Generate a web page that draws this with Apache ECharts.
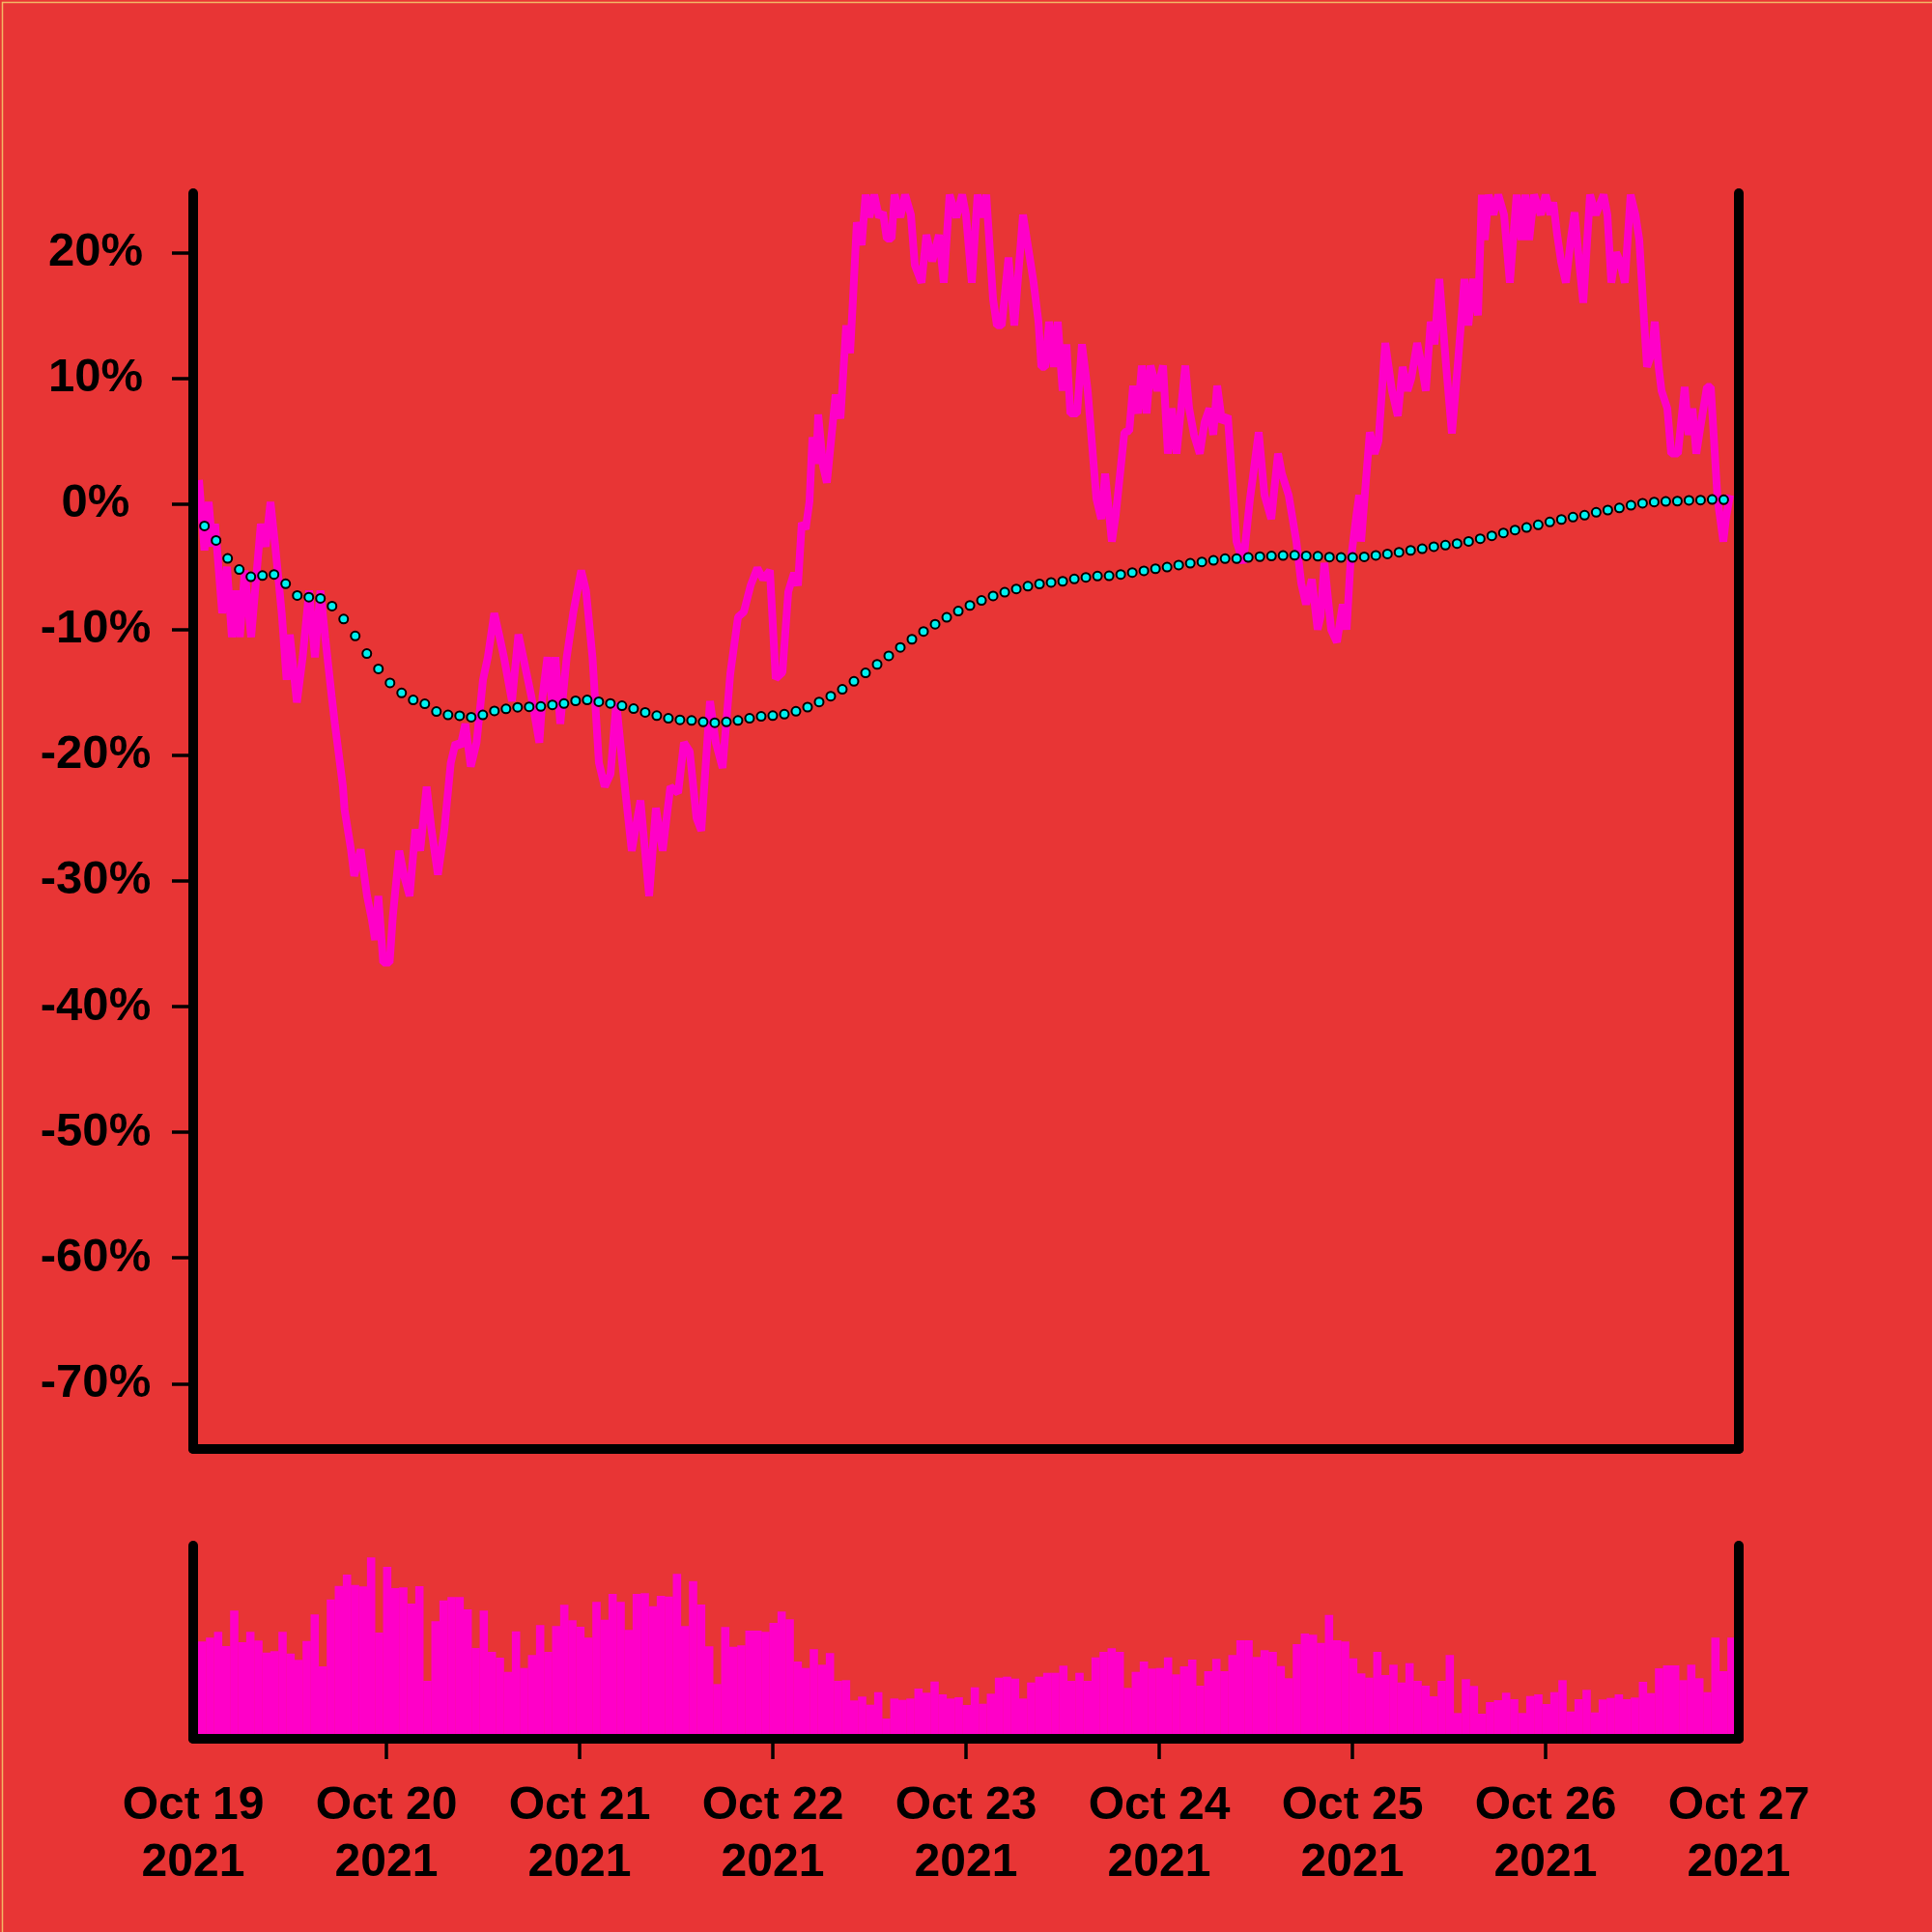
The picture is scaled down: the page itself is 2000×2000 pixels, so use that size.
<!DOCTYPE html>
<html>
<head>
<meta charset="utf-8">
<script src="https://cdn.jsdelivr.net/npm/echarts@6/dist/echarts.min.js"></script>
<style>
  html, body { margin: 0; padding: 0; background: #E83535; }
  #chart { width: 2000px; height: 2000px; }
</style>
</head>
<body>
<div id="chart"></div>
<script>
// ---------------- data (hours since Oct 19 2021 00:00) ----------------
const dayLabels = ['Oct 19', 'Oct 20', 'Oct 21', 'Oct 22', 'Oct 23', 'Oct 24', 'Oct 25', 'Oct 26', 'Oct 27'];
const yearLabel = '2021';
const yTickValues = [-70, -60, -50, -40, -30, -20, -10, 0, 10, 20];

const priceHours = [
  0.72, 1.40, 1.92, 2.40, 2.72, 3.60, 4.20, 4.80, 5.32, 5.80, 6.40, 7.20, 8.40, 9.00, 9.60, 10.20,
  11.00, 11.60, 12.00, 12.88, 13.60, 14.40, 15.12, 15.80, 16.40, 17.20, 17.60, 18.60, 18.80, 19.60,
  20.00, 20.80, 21.60, 22.20, 22.60, 23.00, 23.60, 24.40, 24.80, 25.60, 26.20, 26.88, 27.60, 28.20,
  29.00, 29.60, 30.40, 31.20, 32.00, 32.60, 33.20, 33.80, 34.48, 35.20, 36.00, 36.60, 37.40, 38.00,
  38.60, 39.60, 40.40, 41.00, 42.00, 42.60, 43.00, 43.40, 44.00, 44.60, 45.00, 45.60, 46.40, 47.20,
  48.20, 48.80, 49.60, 50.40, 51.12, 51.84, 52.56, 53.40, 54.48, 55.56, 56.64, 57.48, 58.32, 59.28,
  60.24, 60.96, 61.68, 62.52, 63.12, 64.20, 64.92, 65.76, 66.72, 67.68, 68.40, 69.24, 70.08, 70.80,
  71.64, 72.36, 73.20, 73.92, 74.64, 75.12, 75.60, 76.08, 76.56, 76.92, 77.40, 77.64, 78.24, 78.72,
  79.80, 80.40, 81.12, 81.60, 81.96, 82.44, 83.04, 83.52, 84.00, 84.60, 85.20, 85.68, 86.16, 86.76,
  87.12, 87.84, 88.44, 89.16, 89.64, 90.48, 91.08, 91.80, 92.64, 93.24, 93.96, 94.80, 95.52, 96.00,
  96.72, 97.44, 98.04, 98.52, 99.36, 99.84, 100.44, 101.28, 102.00, 103.08, 103.92, 104.40, 105.00,
  105.36, 105.84, 106.32, 106.92, 107.40, 108.00, 108.48, 108.96, 109.80, 110.40, 111.12, 112.20,
  112.80, 113.28, 114.12, 114.60, 115.68, 116.28, 116.76, 117.36, 117.84, 118.44, 118.92, 119.76,
  120.48, 121.08, 121.56, 122.16, 123.24, 123.72, 124.32, 125.04, 125.64, 126.24, 126.72, 127.20,
  127.80, 128.52, 129.60, 130.44, 131.28, 132.36, 133.08, 133.92, 134.76, 135.24, 136.08, 137.04,
  137.64, 138.24, 138.96, 139.68, 140.04, 140.52, 141.36, 142.08, 142.80, 143.28, 143.76, 144.48,
  144.84, 145.08, 146.16, 146.76, 147.24, 148.08, 148.92, 149.64, 150.24, 150.84, 151.32, 152.04,
  152.64, 153.12, 153.72, 154.20, 154.80, 155.64, 156.36, 157.08, 157.92, 158.40, 159.00, 159.60,
  160.08, 160.44, 160.92, 161.52, 162.12, 162.84, 163.56, 164.40, 165.00, 165.48, 165.96, 166.56,
  167.40, 168.00, 168.60, 168.96, 169.44, 169.92, 170.52, 171.12, 171.60, 172.20, 172.68, 173.52,
  174.24, 175.20, 175.68, 176.16, 176.76, 177.24, 177.84, 178.56, 179.16, 179.64, 180.24, 180.60,
  181.20, 181.56, 182.04, 182.40, 183.12, 183.60, 184.44, 185.28, 185.76, 186.24, 186.72, 187.20,
  188.04, 188.52, 189.36, 190.08, 190.44, 190.92
];
const priceValues = [
  1.9, -3.7, 0.15, -3.4, -1.6, -8.7, -5.0, -10.6, -6.9, -10.6, -5.3, -10.6, -1.6, -3.4, 0.15, -3.4,
  -8.7, -14.0, -10.4, -15.8, -12.2, -6.9, -12.2, -6.9, -10.6, -15.3, -17.5, -22.5, -24.3, -27.5,
  -29.6, -27.5, -31.2, -33.1, -34.7, -31.2, -36.5, -36.5, -32.8, -27.6, -29.6, -31.2, -25.9, -27.6,
  -22.5, -25.9, -29.5, -25.9, -20.6, -19.0, -19.3, -17.5, -20.9, -19.0, -14.0, -12.2, -8.7, -10.4,
  -12.2, -15.7, -10.4, -12.2, -15.3, -17.5, -19.0, -15.3, -12.2, -15.9, -12.2, -17.5, -12.2, -8.7,
  -5.3, -6.9, -12.2, -20.6, -22.5, -21.5, -15.8, -21.2, -27.6, -23.6, -31.2, -24.2, -27.6, -22.5,
  -23.0, -19.0, -19.7, -25.0, -26.0, -15.7, -19.0, -21.0, -13.5, -9.0, -8.6, -6.5, -5.1, -6.0,
  -5.3, -13.9, -13.4, -7.0, -5.5, -6.5, -1.5, -2.0, 0.2, 5.3, 3.2, 7.1, 3.0, 1.7,
  8.7, 6.8, 14.2, 12.0, 16.3, 22.4, 20.6, 24.6, 22.8, 24.6, 22.8, 23.2, 21.1, 21.1,
  24.6, 22.8, 24.6, 23.0, 19.0, 17.6, 21.4, 19.3, 21.4, 17.6, 24.6, 22.8, 24.6, 23.0,
  17.6, 24.6, 22.8, 24.6, 16.3, 14.2, 14.2, 19.6, 14.2, 23.0, 19.6, 17.6, 14.5,
  10.9, 10.9, 14.5, 10.9, 14.5, 9.0, 12.7, 7.2, 7.2, 12.7, 9.0, 0.4,
  -1.2, 2.4, -3.0, -0.9, 5.7, 5.8, 9.4, 7.2, 11.0, 7.2, 11.0, 9.0,
  11.0, 4.0, 7.6, 4.0, 11.0, 7.6, 5.5, 4.0, 6.5, 7.6, 5.5, 9.4,
  6.5, 7.0, -3.0, -4.7, 0.4, 5.7, 0.7, -1.2, 4.0, 2.4, 0.7, -3.0,
  -6.3, -8.0, -6.0, -10.0, -9.0, -4.7, -10.0, -11.0, -8.0, -10.0, -4.7, -1.0,
  0.7, -3.0, 5.7, 4.0, 5.0, 12.8, 9.0, 7.0, 10.9, 9.0, 10.0, 12.8,
  10.9, 9.0, 14.5, 12.7, 17.9, 11.0, 5.6, 11.0, 17.9, 14.2, 17.9, 15.0,
  24.6, 21.0, 24.6, 23.0, 24.6, 23.0, 17.6, 24.6, 21.0, 24.6, 21.0, 24.6,
  23.0, 24.6, 23.0, 24.0, 21.4, 19.3, 17.6, 21.0, 23.2, 19.0, 16.0, 24.6,
  23.0, 24.6, 23.0, 17.6, 20.0, 19.3, 17.6, 24.6, 23.0, 21.0, 14.5, 10.9,
  12.0, 14.5, 10.9, 9.0, 7.6, 4.0, 4.0, 9.3, 5.5, 7.6, 4.0, 6.0,
  9.3, 9.3, 0.4, -3.0, -1.0, 0.7
];

// smoothed trend, one dot every ~1.44 h
const smoothStartHour = 1.40;
const smoothStepHours = 1.4407;
const smoothValues = [
  -1.75, -2.91, -4.34, -5.22, -5.80, -5.70, -5.62, -6.36, -7.29, -7.42, -7.52, -8.13, -9.16, -10.51,
  -11.91, -13.13, -14.24, -15.04, -15.60, -15.91, -16.52, -16.79, -16.86, -16.97, -16.79, -16.47,
  -16.31, -16.18, -16.15, -16.12, -15.99, -15.89, -15.67, -15.60, -15.74, -15.88, -16.06, -16.29,
  -16.59, -16.85, -17.06, -17.18, -17.23, -17.35, -17.41, -17.35, -17.23, -17.06, -16.91, -16.85,
  -16.73, -16.50, -16.17, -15.76, -15.30, -14.75, -14.12, -13.45, -12.77, -12.09, -11.42, -10.77,
  -10.15, -9.57, -9.03, -8.53, -8.08, -7.68, -7.33, -7.03, -6.77, -6.55, -6.37, -6.25, -6.16,
  -5.97, -5.85, -5.74, -5.72, -5.62, -5.46, -5.33, -5.16, -5.03, -4.87, -4.72, -4.62, -4.49,
  -4.36, -4.36, -4.26, -4.20, -4.15, -4.11, -4.09, -4.14, -4.17, -4.23, -4.26, -4.26, -4.21,
  -4.10, -3.98, -3.85, -3.70, -3.57, -3.41, -3.28, -3.16, -2.98, -2.77, -2.54, -2.31, -2.08,
  -1.88, -1.67, -1.44, -1.24, -1.05, -0.90, -0.67, -0.49, -0.32, -0.11, 0.05, 0.15, 0.20,
  0.22, 0.28, 0.30, 0.35, 0.33
];

// hourly volume bars (arbitrary units), bar centres start at 1.1 h
const volumeStartHour = 1.1;
const volumeValues = [
  100.7, 104.7, 110.7, 96, 132.7, 100, 110.7, 101.7, 89.3, 90.7, 110.7, 88.3, 81.7, 101.3, 128.7, 75,
  144.3, 158.3, 170, 159.3, 157.7, 187.7, 110, 178, 156, 156.7, 140, 158, 60, 121.7, 143.3, 146.7,
  146.7, 134, 94, 132.7, 90, 84, 69.3, 111.3, 73.3, 86.7, 117.7, 90, 116.7, 138.7, 122.7, 116,
  104.7, 141.7, 123.3, 150, 141.7, 112.7, 150, 150.7, 137.3, 148, 147.3, 170.7, 116.7, 163.3, 139, 95.7,
  56.7, 115.7, 95.3, 96.7, 112, 112, 110.7, 120, 131.7, 123.7, 80, 73.3, 92.7, 76.7, 88.7, 60,
  60.7, 39.7, 43.7, 35.3, 48.3, 21, 41.7, 40.3, 41.7, 52, 47.7, 59.3, 46, 41.7, 43, 35,
  53.3, 36.3, 46.7, 63.3, 64.3, 62.3, 41.7, 58.3, 64.3, 68.3, 68.3, 75.7, 60, 68.3, 60, 84.3,
  90, 93.7, 90, 52.7, 69.3, 80, 72.7, 73.3, 84.3, 66.7, 75, 82, 55, 70, 82.7, 70,
  86.7, 102, 102, 84.7, 91.7, 90, 75.3, 62.7, 98, 109, 107.7, 99.3, 128.3, 102, 100.7, 83.3,
  67.7, 63.3,
  90, 66, 76.7, 58.3, 78.3, 60, 55, 44, 60, 86.7, 26.7, 61.7, 54.7, 26, 38, 40,
  47.7, 41, 26.7, 44.3, 46, 36, 48.3, 60.7, 28.3, 41, 50.7, 27.3, 40.7, 42.3, 46, 41,
  42.7, 59, 47.3, 73, 76, 76, 60.7, 76.7, 62.7, 48.3, 104.7, 70, 104.7
];

// ---------------- build ----------------
const BG = '#E83535';
const PINK = '#FF00C8';
const CYAN = '#00F0F0';
const FONT = "'Liberation Sans', Arial, Helvetica, sans-serif";

const priceData = priceHours.map((h, i) => [h, priceValues[i]]);
const smoothData = smoothValues.map((v, i) => [smoothStartHour + i * smoothStepHours, v]);
const volumeData = volumeValues.map((v, i) => [volumeStartHour + i, v]);

const dayTicks = dayLabels.map((_, i) => i * 24);
const innerDayTicks = dayTicks.slice(1, -1);

const axisLineStyle = { color: '#000', width: 10, cap: 'round' };

const chart = echarts.init(document.getElementById('chart'), null, { renderer: 'canvas' });
chart.setOption({
  animation: false,
  backgroundColor: BG,
  grid: [
    { left: 200, right: 200, top: 200, height: 1300, outerBoundsMode: 'none' },
    { left: 200, right: 200, top: 1600, height: 200, outerBoundsMode: 'none' }
  ],
  xAxis: [
    {
      gridIndex: 0, type: 'value', min: 0, max: 192, interval: 24, z: 10,
      axisLine: { show: true, onZero: false, lineStyle: axisLineStyle },
      axisTick: { show: false }, axisLabel: { show: false }, splitLine: { show: false }
    },
    {
      gridIndex: 1, type: 'value', min: 0, max: 192, interval: 24, z: 10,
      axisLine: { show: true, onZero: false, lineStyle: axisLineStyle },
      axisTick: {
        show: true, length: 21, customValues: innerDayTicks,
        lineStyle: { color: '#000', width: 3.5 }
      },
      axisLabel: {
        show: true, customValues: dayTicks, showMinLabel: true, showMaxLabel: true,
        margin: 40, color: '#000', fontFamily: FONT, fontWeight: 'bold', fontSize: 48,
        lineHeight: 59, align: 'center',
        formatter: v => dayLabels[Math.round(v / 24)] + '\n' + yearLabel
      },
      splitLine: { show: false }
    }
  ],
  yAxis: [
    {
      gridIndex: 0, type: 'value', position: 'left', min: -75.2, max: 24.72, z: 10,
      axisLine: { show: true, onZero: false, lineStyle: axisLineStyle },
      axisTick: {
        show: true, length: 22, customValues: yTickValues,
        lineStyle: { color: '#000', width: 3.5 }
      },
      axisLabel: {
        show: true, customValues: yTickValues, margin: 101, align: 'center',
        color: '#000', fontFamily: FONT, fontWeight: 'bold', fontSize: 49,
        formatter: v => v + '%'
      },
      splitLine: { show: false }
    },
    {
      gridIndex: 0, type: 'value', position: 'right', min: -75.2, max: 24.72, z: 10,
      axisLine: { show: true, onZero: false, lineStyle: axisLineStyle },
      axisTick: { show: false }, axisLabel: { show: false }, splitLine: { show: false }
    },
    {
      gridIndex: 1, type: 'value', position: 'left', min: 0, max: 200, z: 10,
      axisLine: { show: true, onZero: false, lineStyle: axisLineStyle },
      axisTick: { show: false }, axisLabel: { show: false }, splitLine: { show: false }
    },
    {
      gridIndex: 1, type: 'value', position: 'right', min: 0, max: 200, z: 10,
      axisLine: { show: true, onZero: false, lineStyle: axisLineStyle },
      axisTick: { show: false }, axisLabel: { show: false }, splitLine: { show: false }
    }
  ],
  series: [
    {
      type: 'line', xAxisIndex: 0, yAxisIndex: 0, data: priceData,
      showSymbol: false, clip: false, z: 2,
      lineStyle: { color: PINK, width: 8, join: 'bevel', cap: 'butt' }
    },
    {
      type: 'scatter', xAxisIndex: 0, yAxisIndex: 0, data: smoothData,
      symbol: 'circle', symbolSize: 9, z: 3,
      itemStyle: { color: CYAN, borderColor: '#000', borderWidth: 2, opacity: 1 }
    },
    {
      type: 'bar', xAxisIndex: 1, yAxisIndex: 2, data: volumeData,
      barWidth: 8.6, z: 2,
      itemStyle: { color: PINK }
    }
  ],
  graphic: [
    {
      type: 'rect', left: 0, top: 0, silent: true, z: 100,
      shape: { x: 0.75, y: 0.75, width: 1998.5, height: 1998.5 },
      style: { fill: 'none', stroke: '#F2B866', lineWidth: 1.5 }
    }
  ]
});
</script>
</body>
</html>
